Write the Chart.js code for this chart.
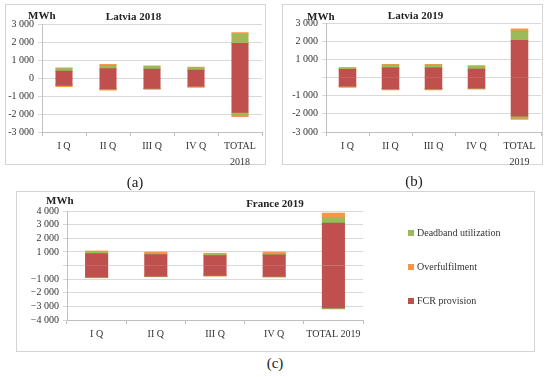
<!DOCTYPE html>
<html>
<head>
<meta charset="utf-8">
<script src="https://cdn.jsdelivr.net/npm/chart.js@4.4.1/dist/chart.umd.min.js"></script>
<style>
  body { margin: 0; background: #fff; width: 550px; height: 377px; position: relative; overflow: hidden; }
  .box { position: absolute; border: 1px solid #d4d4d4; box-sizing: border-box; }
  canvas { position: absolute; }
  .txt { position: absolute; font-family: "Liberation Serif", serif; color: #222; white-space: nowrap; }
  .unit { font-size: 11px; font-weight: bold; line-height: 12px; }
  .ttl { font-size: 11px; font-weight: bold; line-height: 13px; transform: translateX(-50%); }
  .cap { font-size: 15px; line-height: 16px; transform: translateX(-50%); }
  #legendC { position: absolute; left: 408px; top: 226px; }
  .lg-item { position: relative; height: 14px; margin-bottom: 20px; font-family: "Liberation Serif", serif; font-size: 10px; line-height: 14px; color: #333; white-space: nowrap; }
  .lg-box { display: inline-block; width: 6px; height: 6px; margin-right: 3px; vertical-align: 0px; }
</style>
</head>
<body>

<div class="box" style="left:5px;top:4px;width:261px;height:161px"></div>
<div class="box" style="left:282px;top:4px;width:261px;height:161px"></div>
<div class="box" style="left:16px;top:191px;width:519px;height:161px"></div>

<canvas id="chartA" width="261" height="161" style="left:5px;top:4px"></canvas>
<canvas id="chartB" width="261" height="161" style="left:282px;top:4px"></canvas>
<canvas id="chartC" width="519" height="161" style="left:16px;top:191px"></canvas>
<div id="legendC"></div>

<span class="txt unit" style="left:28px;top:9px">MWh</span>
<span class="txt unit" style="left:307px;top:10px">MWh</span>
<span class="txt unit" style="left:46px;top:194px">MWh</span>
<span class="txt ttl" style="left:275px;top:197px">France 2019</span>

<span class="txt cap" style="left:135px;top:174px">(a)</span>
<span class="txt cap" style="left:414px;top:173px">(b)</span>
<span class="txt cap" style="left:275px;top:355px">(c)</span>

<script>

// categories
const categoriesLv18 = ['I Q', 'II Q', 'III Q', 'IV Q', ['TOTAL', '2018']];
const categoriesLv19 = ['I Q', 'II Q', 'III Q', 'IV Q', ['TOTAL', '2019']];
const categoriesFr19 = ['I Q', 'II Q', 'III Q', 'IV Q', 'TOTAL 2019'];

// Latvia 2018 (MWh), up = positive part, down = negative part
const fcrUpLv18 = [380, 520, 490, 430, 1920];
const deadUpLv18 = [150, 170, 150, 140, 500];
const overUpLv18 = [30, 60, 30, 30, 100];
const fcrDownLv18 = [-390, -590, -560, -430, -1900];
const deadDownLv18 = [-10, -10, -10, -10, -170];
const overDownLv18 = [-60, -50, -40, -60, -60];

// Latvia 2019
const fcrUpLv19 = [440, 530, 520, 460, 2040];
const deadUpLv19 = [90, 150, 160, 150, 530];
const overUpLv19 = [10, 40, 40, 40, 110];
const fcrDownLv19 = [-460, -610, -610, -570, -2110];
const deadDownLv19 = [-10, -10, -10, -10, -110];
const overDownLv19 = [-50, -50, -50, -50, -70];

// France 2019
const fcrUpFr19 = [850, 780, 710, 760, 3100];
const deadUpFr19 = [100, 100, 80, 110, 410];
const overUpFr19 = [100, 90, 90, 100, 320];
const fcrDownFr19 = [-830, -760, -710, -780, -3100];
const deadDownFr19 = [-30, -30, -30, -30, -50];
const overDownFr19 = [-20, -20, -20, -20, -20];

// y tick labels, bottom to top
const yTicksLv18 = ['-3 000', '-2 000', '-1 000', '0', '1 000', '2 000', '3 000'];
const yTicksLv19 = ['-3 000', '-2 000', '-1 000', '', '1 000', '2 000', '3 000'];
const yTicksFr19 = ['\u22124 000', '\u22123 000', '\u22122 000', '\u22121 000', '', '1 000', '2 000', '3 000', '4 000'];

const legendOrder = ['Deadband utilization', 'Overfulfilment', 'FCR provision'];

const RED = '#c0504d';
const GREEN = '#9bbb59';
const ORANGE = '#f79646';
const FONT = 'Liberation Serif';

function buildDatasets(fcrUp, fcrDown, deadUp, deadDown, overUp, overDown, barPct) {
  // order matters: first dataset sits closest to zero in the stack
  const list = [
    { label: 'FCR provision', data: fcrUp, backgroundColor: RED, inLegend: true },
    { label: 'FCR provision', data: fcrDown, backgroundColor: RED, inLegend: false },
    { label: 'Deadband utilization', data: deadUp, backgroundColor: GREEN, inLegend: true },
    { label: 'Deadband utilization', data: deadDown, backgroundColor: GREEN, inLegend: false },
    { label: 'Overfulfilment', data: overUp, backgroundColor: ORANGE, inLegend: true },
    { label: 'Overfulfilment', data: overDown, backgroundColor: ORANGE, inLegend: false }
  ];
  return list.map(d => Object.assign(d, {
    borderWidth: 0,
    inflateAmount: 0.6, // hides the hairline gap at zero between up and down parts
    barPercentage: barPct,
    categoryPercentage: 1.0,
    stack: 's'
  }));
}

function makeChart(id, o) {
  const canvas = document.getElementById(id);

  return new Chart(canvas, {
    type: 'bar',
    data: {
      labels: o.labels,
      datasets: o.datasets
    },
    options: {
      responsive: false,
      animation: false,
      devicePixelRatio: 1,
      layout: { padding: o.padding },
      scales: {
        x: {
          stacked: true,
          grid: { display: true, drawOnChartArea: false, drawTicks: true, tickLength: 4, color: '#bfbfbf', offset: true },
          border: { display: true, color: '#bfbfbf' },
          ticks: {
            color: '#333',
            font: { family: FONT, size: o.catSize, lineHeight: o.catLineHeight },
            padding: o.catPad,
            maxRotation: 0,
            autoSkip: false
          },
          afterFit: s => { s.height = o.xHeight; }
        },
        y: {
          stacked: true,
          min: o.yMin,
          max: o.yMax,
          grid: { color: '#d9d9d9', tickLength: 4, drawTicks: true },
          border: { display: true, color: '#bfbfbf' },
          ticks: {
            stepSize: 1000,
            autoSkip: false,
            color: '#333',
            font: { family: FONT, size: 10 },
            padding: 4,
            callback: (v, i) => o.yTicks[i]
          },
          afterFit: s => { s.width = o.yWidth; }
        }
      },
      plugins: {
        title: {
          display: o.title !== undefined,
          text: o.title,
          color: '#222',
          font: { family: FONT, size: 11, weight: 'bold', lineHeight: 1.2 },
          padding: { top: o.titleTop, bottom: o.titleBottom }
        },
        legend: { display: false },
        tooltip: { enabled: false }
      }
    }
  });
}

makeChart('chartA', {
  title: 'Latvia 2018',
  labels: categoriesLv18,
  datasets: buildDatasets(fcrUpLv18, fcrDownLv18, deadUpLv18, deadDownLv18, overUpLv18, overDownLv18, 0.36),
  yMin: -3000, yMax: 3000, yTicks: yTicksLv18,
  yWidth: 37, xHeight: 33,
  catSize: 10, catLineHeight: 1.6, catPad: 2,
  padding: { left: 0, right: 4, top: 0, bottom: 0 },
  titleTop: 7, titleBottom: 0
});

makeChart('chartB', {
  title: 'Latvia 2019',
  labels: categoriesLv19,
  datasets: buildDatasets(fcrUpLv19, fcrDownLv19, deadUpLv19, deadDownLv19, overUpLv19, overDownLv19, 0.38),
  yMin: -3000, yMax: 3000, yTicks: yTicksLv19,
  yWidth: 36, xHeight: 33,
  catSize: 10, catLineHeight: 1.6, catPad: 2,
  padding: { left: 8, right: 2, top: 0, bottom: 0 },
  titleTop: 6, titleBottom: 0
});

// France title sits over the whole box (legend included), so it is placed as html text above
const chartC = makeChart('chartC', {
  labels: categoriesFr19,
  datasets: buildDatasets(fcrUpFr19, fcrDownFr19, deadUpFr19, deadDownFr19, overUpFr19, overDownFr19, 0.37),
  yMin: -4000, yMax: 4000, yTicks: yTicksFr19,
  yWidth: 51, xHeight: 32,
  catSize: 10, catLineHeight: 1.2, catPad: 4,
  padding: { left: 0, right: 172, top: 20, bottom: 0 }
});

// html legend for the France chart, built from the chart's own legend items
const legendItems = Chart.defaults.plugins.legend.labels.generateLabels(chartC)
  .filter(item => chartC.data.datasets[item.datasetIndex].inLegend)
  .sort((a, b) => legendOrder.indexOf(a.text) - legendOrder.indexOf(b.text));

const legendDiv = document.getElementById('legendC');
for (const item of legendItems) {
  const row = document.createElement('div');
  row.className = 'lg-item';
  const sq = document.createElement('span');
  sq.className = 'lg-box';
  sq.style.background = item.fillStyle;
  row.appendChild(sq);
  row.appendChild(document.createTextNode(item.text));
  legendDiv.appendChild(row);
}

</script>
</body>
</html>
